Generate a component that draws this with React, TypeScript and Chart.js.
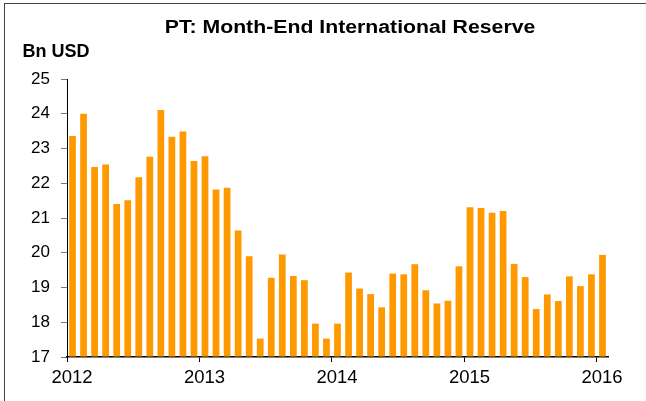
import React, { useEffect, useRef } from "react";
import { Chart, registerables } from "chart.js";

Chart.register(...registerables);

const TITLE = "PT: Month-End International Reserve";
const UNIT_LABEL = "Bn USD";
const START_YEAR = 2012;
const END_X = 2016 + 1 / 12;
const YEAR_TICKS = [2012, 2013, 2014, 2015, 2016];
const Y_MIN = 17;
const Y_MAX = 25;

const values2012 = [23.36, 24.0, 22.47, 22.54, 21.4, 21.51, 22.17, 22.76, 24.11, 23.34, 23.49, 22.64];
const values2013 = [22.78, 21.82, 21.87, 20.64, 19.9, 17.53, 19.28, 19.95, 19.33, 19.21, 17.96, 17.53];
const values2014 = [17.96, 19.43, 18.97, 18.81, 18.43, 19.4, 19.38, 19.67, 18.92, 18.54, 18.62, 19.61];
const values2015 = [21.31, 21.29, 21.15, 21.2, 19.68, 19.3, 18.38, 18.8, 18.61, 19.32, 19.04, 19.38];
const values2016 = [19.94];

const monthlyValues = [...values2012, ...values2013, ...values2014, ...values2015, ...values2016];

const FONT = "'Liberation Sans', Arial, sans-serif";

export default function App() {
  const ref = useRef<HTMLCanvasElement | null>(null);

  useEffect(() => {
    document.body.style.margin = "0";
    const canvas = ref.current;
    if (!canvas) return;

    const points = monthlyValues.map((v, i) => ({ x: START_YEAR + (i + 0.5) / 12, y: v }));

    const textPlugin = {
      id: "textPlugin",
      afterDraw(chart: any) {
        const ctx = chart.ctx;
        ctx.save();
        ctx.fillStyle = "#000";
        ctx.textBaseline = "alphabetic";
        ctx.font = `bold 18px ${FONT}`;
        ctx.textAlign = "center";
        ctx.save();
        ctx.translate(350, 33.3);
        ctx.scale(1.18, 1);
        ctx.fillText(TITLE, 0, 0);
        ctx.restore();
        ctx.font = `bold 18px ${FONT}`;
        ctx.textAlign = "left";
        ctx.fillText(UNIT_LABEL, 22.5, 56.7);
        ctx.restore();
      },
    };

    const chart = new Chart(canvas, {
      type: "bar",
      data: {
        datasets: [
          {
            data: points,
            backgroundColor: "#FF9900",
            borderWidth: 0,
            barPercentage: 0.61,
            categoryPercentage: 1,
            base: Y_MIN,
          } as any,
        ],
      },
      options: {
        animation: false,
        responsive: false,
        maintainAspectRatio: false,
        layout: { padding: { left: 0, top: 79, right: 38, bottom: 0 } },
        plugins: {
          legend: { display: false },
          title: { display: false },
          tooltip: { enabled: false },
        },
        scales: {
          x: {
            type: "linear",
            offset: false,
            min: START_YEAR,
            max: END_X,
            afterFit(scale: any) {
              scale.height = 44;
            },
            afterBuildTicks(scale: any) {
              scale.ticks = YEAR_TICKS.map((v) => ({ value: v }));
            },
            ticks: {
              autoSkip: false,
              maxRotation: 0,
              includeBounds: false,
              padding: 5,
              labelOffset: 5,
              color: "#000",
              font: { family: FONT, size: 18.5 },
              callback: (v: any) => String(v),
            },
            grid: {
              offset: false,
              drawOnChartArea: false,
              drawTicks: true,
              tickLength: 5,
              color: "#000",
            },
            border: { display: true, color: "#000", width: 1.5 },
          },
          y: {
            type: "linear",
            min: Y_MIN,
            max: Y_MAX,
            afterFit(scale: any) {
              scale.width = 67;
            },
            ticks: {
              stepSize: 1,
              padding: 11,
              color: "#000",
              font: { family: FONT, size: 17 },
            },
            grid: {
              drawOnChartArea: false,
              drawTicks: true,
              tickLength: 6,
              color: "#777",
            },
            border: { display: true, color: "#000", width: 1 },
          },
        },
      },
      plugins: [textPlugin],
    } as any);

    return () => chart.destroy();
  }, []);

  return (
    <div style={{ position: "fixed", left: 0, top: 0, width: 646, height: 401, background: "#fff", overflow: "hidden" }}>
      <div
        style={{
          position: "absolute",
          left: 4,
          top: 3,
          right: -2,
          bottom: -2,
          borderLeft: "1.5px solid #444",
          borderTop: "1.5px solid #444",
          pointerEvents: "none",
        }}
      />
      <canvas ref={ref} width={646} height={401} style={{ position: "absolute", left: 0, top: 0, display: "block" }} />
    </div>
  );
}
